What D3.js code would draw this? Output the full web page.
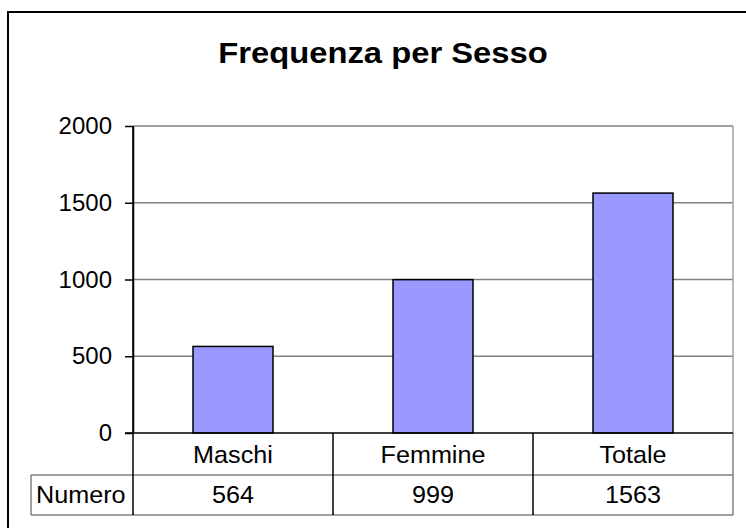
<!DOCTYPE html>
<html>
<head>
<meta charset="utf-8">
<script src="https://cdn.jsdelivr.net/npm/d3@7"></script>
<style>
  body { margin: 0; background: #fff; }
  svg { display: block; font-family: "Liberation Sans", Arial, sans-serif; }
</style>
</head>
<body>
<svg id="chart"></svg>
<script>
const categories = ["Maschi", "Femmine", "Totale"];
const values = [564, 999, 1563];
const yTicks = [0, 500, 1000, 1500, 2000];
const rowLabel = "Numero";
const title = "Frequenza per Sesso";

const width = 746;
const height = 528;
const plot = { left: 133, right: 733, top: 126, bottom: 433 };
const table = { left: 31, row1: 475, row2: 515 };
const labelSize = 24;

const svg = d3.select("#chart").attr("width", width).attr("height", height);

// outer frame (cut by the picture edge on the right and bottom)
svg.append("rect")
  .attr("x", 8).attr("y", 12)
  .attr("width", 800).attr("height", 600)
  .attr("fill", "none").attr("stroke", "#000").attr("stroke-width", 2);

// the original text is a little wider than Arial, so stretch it sideways
svg.append("text")
  .attr("transform", "translate(383,63) scale(1.13,1)")
  .attr("text-anchor", "middle")
  .attr("font-size", 29).attr("font-weight", "bold")
  .text(title);

const x_scale = d3.scaleBand()
  .domain(categories)
  .range([plot.left, plot.right])
  .padding(0);

const y_scale = d3.scaleLinear()
  .domain([0, 2000])
  .range([plot.bottom, plot.top]);

// gridlines
svg.append("g")
  .selectAll("line")
  .data(yTicks.filter((d) => d > 0))
  .enter()
  .append("line")
  .attr("x1", plot.left).attr("x2", plot.right)
  .attr("y1", (d) => y_scale(d)).attr("y2", (d) => y_scale(d))
  .attr("stroke", "#808080").attr("stroke-width", 1.5);

// right edge of plot area
svg.append("line")
  .attr("x1", plot.right).attr("x2", plot.right)
  .attr("y1", plot.top).attr("y2", plot.bottom)
  .attr("stroke", "#a0a0a0").attr("stroke-width", 1.5);

const bw = x_scale.bandwidth() / 2.5;
svg.selectAll(".bar")
  .data(values)
  .enter()
  .append("rect")
  .attr("class", "bar")
  .attr("x", (d, i) => x_scale(categories[i]) + (x_scale.bandwidth() - bw) / 2)
  .attr("y", (d) => y_scale(d))
  .attr("width", bw)
  .attr("height", (d) => y_scale(0) - y_scale(d))
  .attr("fill", "#9999ff")
  .attr("stroke", "#000")
  .attr("stroke-width", 1.5);

// y axis
const yAxis = svg.append("g")
  .attr("transform", `translate(${plot.left},0)`)
  .call(d3.axisLeft(y_scale).tickValues(yTicks).tickFormat(d3.format("d"))
    .tickSize(8).tickSizeOuter(0).tickPadding(13));
yAxis.select(".domain").attr("stroke", "#000").attr("stroke-width", 1.5);
yAxis.selectAll(".tick line").attr("stroke", "#000").attr("stroke-width", 1.5);
yAxis.selectAll(".tick text")
  .attr("font-family", "Liberation Sans, Arial, sans-serif")
  .attr("font-size", labelSize).attr("fill", "#000");

// data table
const grey = "#808080";
[table.row1, table.row2].forEach((y) => {
  svg.append("line")
    .attr("x1", table.left).attr("x2", plot.right)
    .attr("y1", y).attr("y2", y)
    .attr("stroke", grey).attr("stroke-width", 1.5);
});
svg.append("line")
  .attr("x1", table.left).attr("x2", table.left)
  .attr("y1", table.row1).attr("y2", table.row2)
  .attr("stroke", grey).attr("stroke-width", 1.5);
svg.append("line")
  .attr("x1", plot.right).attr("x2", plot.right)
  .attr("y1", plot.bottom).attr("y2", table.row2)
  .attr("stroke", grey).attr("stroke-width", 1.5);
svg.selectAll(".divider")
  .data(categories)
  .enter()
  .append("line")
  .attr("class", "divider")
  .attr("x1", (d) => x_scale(d)).attr("x2", (d) => x_scale(d))
  .attr("y1", (d, i) => (i === 0 ? plot.top : plot.bottom))
  .attr("y2", table.row2)
  .attr("stroke", "#000").attr("stroke-width", 1.5);

// x axis baseline
svg.append("line")
  .attr("x1", plot.left - 8).attr("x2", plot.right)
  .attr("y1", plot.bottom).attr("y2", plot.bottom)
  .attr("stroke", "#000").attr("stroke-width", 1.5);

const stretch = (x, y) => `translate(${x},${y}) scale(1.05,1)`;

svg.selectAll(".cat")
  .data(categories)
  .enter()
  .append("text")
  .attr("class", "cat")
  .attr("transform", (d) => stretch(x_scale(d) + x_scale.bandwidth() / 2, 463))
  .attr("text-anchor", "middle")
  .attr("font-size", labelSize)
  .text((d) => d);

svg.append("text")
  .attr("transform", stretch(36, 503))
  .attr("font-size", labelSize)
  .text(rowLabel);

svg.selectAll(".val")
  .data(values)
  .enter()
  .append("text")
  .attr("class", "val")
  .attr("transform", (d, i) => stretch(x_scale(categories[i]) + x_scale.bandwidth() / 2, 503))
  .attr("text-anchor", "middle")
  .attr("font-size", labelSize)
  .text((d) => d);
</script>
</body>
</html>
